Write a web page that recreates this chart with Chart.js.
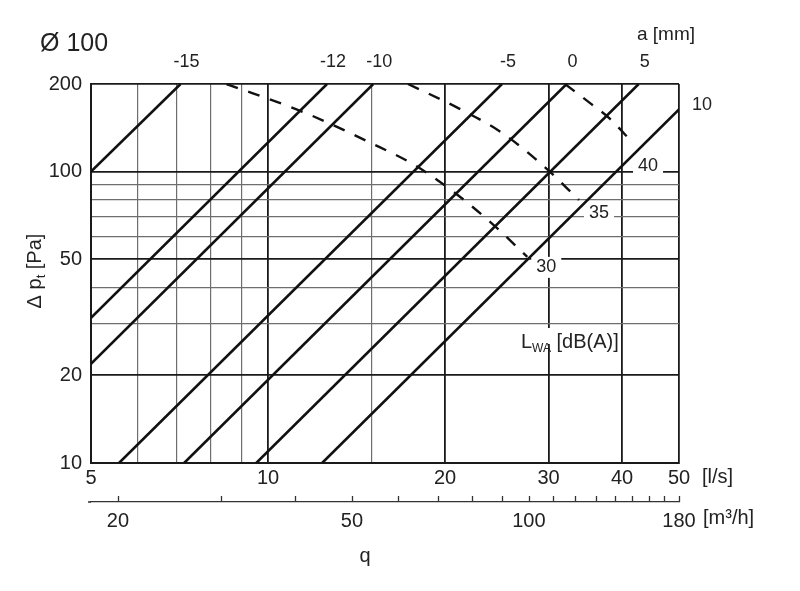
<!DOCTYPE html>
<html>
<head>
<meta charset="utf-8">
<script src="https://cdn.jsdelivr.net/npm/chart.js@4.4.1/dist/chart.umd.min.js"></script>
<style>
  html, body { margin: 0; padding: 0; background: #fff; }
</style>
</head>
<body>
<canvas id="chart" width="800" height="591"></canvas>
<script>
// axes: flow q [l/s] and [m3/h], total pressure drop [Pa]
var xTicks = [5, 6, 7, 8, 9, 10, 15, 20, 30, 40, 50];
var xLabels = [5, 10, 20, 30, 40, 50];
var yTicks = [10, 20, 30, 40, 50, 60, 70, 80, 90, 100, 200];
var yLabels = [10, 20, 50, 100, 200];
var m3hTicks = [20, 30, 40, 50, 60, 70, 80, 90, 100, 110, 120, 130, 140, 150, 160, 170, 180];
var m3hLabels = [20, 50, 100, 180];

// damper setting a [mm]: start / end of each line
var settings = ['-15', '-12', '-10', '-5', '0', '5', '10'];
var settingQ = [[5, 7.1], [5, 12.6], [5, 15.1], [5.58, 25], [7.2, 32.2], [9.55, 42.7], [12.36, 50]];
var settingP = [[100, 200], [31.5, 200], [21.9, 200], [10, 200], [10, 200], [10, 200], [10, 163.6]];

// sound power level L_WA [dB(A)]
var lwaNames = ['30', '35', '40'];
var lwa30Q = [8.5, 11.5, 14.9, 17.8, 20.8, 24.2, 27.6];
var lwa30P = [200, 160, 126, 105, 84.5, 65.6, 51];
var lwa35Q = [17.3, 21.1, 25.0, 29.2, 33.8];
var lwa35P = [200, 165, 136, 106, 80];
var lwa40Q = [32.0, 35.3, 38.0, 41.6];
var lwa40P = [200, 172, 153, 126.5];

var FONT = '"Liberation Sans", Arial, sans-serif';
var INK = '#222';
Chart.defaults.font.family = FONT;
Chart.defaults.color = INK;

function pts(qs, ps) {
  return qs.map(function (q, i) { return { x: q, y: ps[i] }; });
}

var datasets = [];
settings.forEach(function (name, i) {
  datasets.push({
    label: 'a = ' + name,
    data: pts(settingQ[i], settingP[i]),
    borderColor: '#111',
    borderWidth: 2.6,
    pointRadius: 0,
    fill: false
  });
});
var lwaQ = [lwa30Q, lwa35Q, lwa40Q];
var lwaP = [lwa30P, lwa35P, lwa40P];
lwaNames.forEach(function (name, i) {
  datasets.push({
    label: 'LWA ' + name,
    data: pts(lwaQ[i], lwaP[i]),
    borderColor: '#111',
    borderWidth: 2.4,
    borderDash: [12, 11],
    pointRadius: 0,
    cubicInterpolationMode: 'monotone',
    fill: false
  });
});

// where the dB labels sit relative to the end of each dashed curve
var lwaLabelShift = [[19, 10], [20, 13], [16, 24]];

function isIn(arr, v) { return arr.indexOf(v) >= 0; }

var textPlugin = {
  id: 'textPlugin',
  beforeDatasetsDraw: function (chart) {
    var ctx = chart.ctx, xs = chart.scales.x, ys = chart.scales.y;
    ctx.save();
    ctx.font = '18px ' + FONT;
    ctx.textAlign = 'center';
    ctx.textBaseline = 'middle';
    lwaNames.forEach(function (name, i) {
      var n = lwaQ[i].length - 1;
      var px = xs.getPixelForValue(lwaQ[i][n]) + lwaLabelShift[i][0];
      var py = ys.getPixelForValue(lwaP[i][n]) + lwaLabelShift[i][1];
      var w = ctx.measureText(name).width;
      ctx.fillStyle = '#fff';
      ctx.fillRect(px - w / 2 - 5, py - 10, w + 10, 21);
      ctx.fillStyle = INK;
      ctx.fillText(name, px, py);
    });

    // L_WA [dB(A)]
    var lx = 521, ly = 342;
    ctx.fillStyle = '#fff';
    ctx.fillRect(lx - 3, 328, 100, 16);
    ctx.fillStyle = INK;
    ctx.textAlign = 'left';
    ctx.font = '20px ' + FONT;
    ctx.fillText('L', lx, ly);
    var w1 = ctx.measureText('L').width;
    ctx.font = '12px ' + FONT;
    ctx.fillText('WA', lx + w1, ly + 7);
    var w2 = ctx.measureText('WA').width;
    ctx.font = '20px ' + FONT;
    ctx.fillText(' [dB(A)]', lx + w1 + w2, ly);
    ctx.restore();
  },
  afterDraw: function (chart) {
    var ctx = chart.ctx, xs = chart.scales.x, ys = chart.scales.y, x2 = chart.scales.x2;
    var area = chart.chartArea;
    ctx.save();
    ctx.fillStyle = INK;

    ctx.font = '25px ' + FONT;
    ctx.textAlign = 'left';
    ctx.textBaseline = 'alphabetic';
    ctx.fillText('\u00D8 100', 40, 51);

    ctx.font = '19px ' + FONT;
    ctx.fillText('a [mm]', 637, 40);

    // setting labels at the line ends
    ctx.font = '18px ' + FONT;
    ctx.textBaseline = 'middle';
    settings.forEach(function (name, i) {
      var q = settingQ[i][1], p = settingP[i][1];
      var px = xs.getPixelForValue(q), py = ys.getPixelForValue(p);
      if (p >= 200) {
        ctx.textAlign = 'center';
        ctx.fillText(name, px + 6, 62);
      } else {
        ctx.textAlign = 'left';
        ctx.fillText(name, px + 13, py - 4);
      }
    });

    // units
    ctx.font = '20px ' + FONT;
    ctx.textAlign = 'left';
    ctx.fillText('[l/s]', 702, 477);
    ctx.fillText('[m\u00B3/h]', 703, 518);
    ctx.textAlign = 'center';
    ctx.fillText('q', 365, 556);

    // y title
    ctx.save();
    ctx.translate(35, 271);
    ctx.rotate(-Math.PI / 2);
    ctx.font = '20px ' + FONT;
    var a = '\u0394 p', b = ' [Pa]';
    var wa = ctx.measureText(a).width, wb = ctx.measureText(b).width;
    ctx.font = '13px ' + FONT;
    var wt = ctx.measureText('t').width;
    var start = -(wa + wt + wb) / 2;
    ctx.textAlign = 'left';
    ctx.font = '20px ' + FONT;
    ctx.fillText(a, start, 0);
    ctx.font = '13px ' + FONT;
    ctx.fillText('t', start + wa, 6);
    ctx.font = '20px ' + FONT;
    ctx.fillText(b, start + wa + wt, 0);
    ctx.restore();

    // m3/h axis: small ticks pointing up
    var base = x2.top;
    ctx.strokeStyle = '#333';
    ctx.lineWidth = 1.3;
    ctx.beginPath();
    ctx.moveTo(88, base);
    ctx.lineTo(area.left, base);
    m3hTicks.forEach(function (v) {
      var px = Math.round(x2.getPixelForValue(v)) + 0.5;
      ctx.moveTo(px, base);
      ctx.lineTo(px, base - 6);
    });
    ctx.stroke();
    ctx.restore();
  }
};

function tickSetter(list) {
  return function (s) { s.ticks = list.map(function (v) { return { value: v }; }); };
}

new Chart(document.getElementById('chart'), {
  type: 'line',
  data: { datasets: datasets },
  options: {
    responsive: false,
    animation: false,
    parsing: false,
    layout: { padding: { left: 0, top: 84, right: 121, bottom: 0 } },
    plugins: { legend: { display: false }, tooltip: { enabled: false } },
    scales: {
      x: {
        type: 'logarithmic', position: 'bottom', min: 5, max: 50, weight: 0,
        afterBuildTicks: tickSetter(xTicks),
        afterFit: function (s) { s.height = 39; },
        grid: {
          drawTicks: false,
          color: function (c) { return c.tick && isIn(xLabels, c.tick.value) ? '#1a1a1a' : '#6e6e6e'; },
          lineWidth: function (c) { return c.tick && isIn(xLabels, c.tick.value) ? 1.8 : 1.2; }
        },
        border: { display: true, color: '#1a1a1a', width: 2 },
        ticks: {
          autoSkip: false, maxRotation: 0, padding: 3,
          font: { size: 20 },
          callback: function (v) { return isIn(xLabels, v) ? String(v) : ''; }
        }
      },
      x2: {
        type: 'logarithmic', position: 'bottom', min: 18, max: 180, weight: 1,
        afterBuildTicks: tickSetter(m3hTicks),
        afterFit: function (s) { s.height = 89; },
        grid: { display: false, drawTicks: false },
        border: { display: true, color: '#333', width: 1.3 },
        ticks: {
          autoSkip: false, maxRotation: 0, padding: 7,
          font: { size: 20 },
          callback: function (v) { return isIn(m3hLabels, v) ? String(v) : ''; }
        }
      },
      y: {
        type: 'logarithmic', position: 'left', min: 10, max: 200,
        afterBuildTicks: tickSetter(yTicks),
        afterFit: function (s) { s.width = 91; },
        grid: {
          drawTicks: false,
          color: function (c) { return c.tick && isIn(yLabels, c.tick.value) ? '#1a1a1a' : '#6e6e6e'; },
          lineWidth: function (c) { return c.tick && isIn(yLabels, c.tick.value) ? 1.8 : 1.2; }
        },
        border: { display: true, color: '#1a1a1a', width: 2 },
        ticks: {
          autoSkip: false, padding: 9,
          font: { size: 20 },
          callback: function (v) { return isIn(yLabels, v) ? String(v) : ''; }
        }
      }
    }
  },
  plugins: [textPlugin]
});
</script>
</body>
</html>
